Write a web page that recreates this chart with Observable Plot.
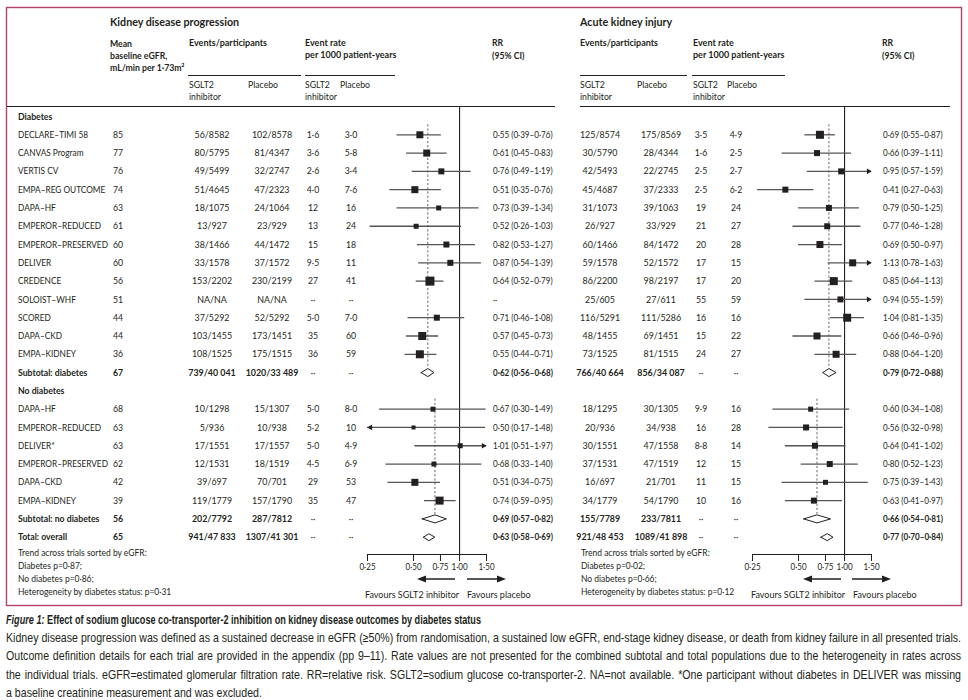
<!DOCTYPE html>
<html><head><meta charset="utf-8">
<script src="https://cdn.jsdelivr.net/npm/d3@7"></script>
<script src="https://cdn.jsdelivr.net/npm/@observablehq/plot@0.6"></script>
<style>
body{margin:0;background:#fff;}
#fig{position:relative;width:968px;height:700px;font-family:Lato,sans-serif;color:#231f20;}
#fig svg.ov{position:absolute;left:0;top:0;}
.plotwrap{position:absolute;}
#cap{position:absolute;left:6px;top:611px;width:962px;font-family:"Liberation Sans",Arial,sans-serif;font-size:12.6px;line-height:18.2px;white-space:nowrap;color:#231f20;}
#cap .ln{display:block;width:max-content;transform-origin:0 0;}
#cap .just{text-align:justify;text-align-last:justify;}
</style></head><body><div id="fig"></div>
<script>
// ---------- DATA ----------
const diabTrials = ["DECLARE–TIMI 58","CANVAS Program","VERTIS CV","EMPA–REG OUTCOME","DAPA–HF","EMPEROR–REDUCED","EMPEROR–PRESERVED","DELIVER","CREDENCE","SOLOIST–WHF","SCORED","DAPA–CKD","EMPA–KIDNEY"];
const noDiabTrials = ["DAPA–HF","EMPEROR–REDUCED","DELIVER*","EMPEROR–PRESERVED","DAPA–CKD","EMPA–KIDNEY"];
const summaryLabels = ["Subtotal: diabetes","Subtotal: no diabetes","Total: overall"];
const groupLabels = ["Diabetes","No diabetes"];
const diabEgfr = [85,77,76,74,63,61,60,60,56,51,44,44,36];
const noDiabEgfr = [68,63,63,62,42,39];
const summaryEgfr = [67,56,65];

// Kidney disease progression
const kdDiabEvS = ["56/8582","80/5795","49/5499","51/4645","18/1075","13/927","38/1466","33/1578","153/2202","NA/NA","37/5292","103/1455","108/1525"];
const kdDiabEvP = ["102/8578","81/4347","32/2747","47/2323","24/1064","23/929","44/1472","37/1572","230/2199","NA/NA","52/5292","173/1451","175/1515"];
const kdDiabRateS = ["1·6","3·6","2·6","4·0","12","13","15","9·5","27","··","5·0","35","36"];
const kdDiabRateP = ["3·0","5·8","3·4","7·6","16","24","18","11","41","··","7·0","60","59"];
const kdDiabRR = [0.55,0.61,0.76,0.51,0.73,0.52,0.82,0.87,0.64,null,0.71,0.57,0.55];
const kdDiabLo = [0.39,0.45,0.49,0.35,0.39,0.26,0.53,0.54,0.52,null,0.46,0.45,0.44];
const kdDiabHi = [0.76,0.83,1.19,0.76,1.34,1.03,1.27,1.39,0.79,null,1.08,0.73,0.71];
const kdDiabBox = [7,7,6,7,5,5,6,6,9,0,6,8,8];
const kdNoDiabEvS = ["10/1298","5/936","17/1551","12/1531","39/697","119/1779"];
const kdNoDiabEvP = ["15/1307","10/938","17/1557","18/1519","70/701","157/1790"];
const kdNoDiabRateS = ["5·0","5·2","5·0","4·5","29","35"];
const kdNoDiabRateP = ["8·0","10","4·9","6·9","53","47"];
const kdNoDiabRR = [0.67,0.50,1.01,0.68,0.51,0.74];
const kdNoDiabLo = [0.30,0.17,0.51,0.33,0.34,0.59];
const kdNoDiabHi = [1.49,1.48,1.97,1.40,0.75,0.95];
const kdNoDiabBox = [5,4,5,5,7,8];
const kdSumEvS = ["739/40 041","202/7792","941/47 833"];
const kdSumEvP = ["1020/33 489","287/7812","1307/41 301"];
const kdSumRR = [0.62,0.69,0.63];
const kdSumLo = [0.56,0.57,0.58];
const kdSumHi = [0.68,0.82,0.69];
const kdTrend = ["Trend across trials sorted by eGFR:","Diabetes p=0·87;","No diabetes p=0·86;","Heterogeneity by diabetes status: p=0·31"];

// Acute kidney injury
const akiDiabEvS = ["125/8574","30/5790","42/5493","45/4687","31/1073","26/927","60/1466","59/1578","86/2200","25/605","116/5291","48/1455","73/1525"];
const akiDiabEvP = ["175/8569","28/4344","22/2745","37/2333","39/1063","33/929","84/1472","52/1572","98/2197","27/611","111/5286","69/1451","81/1515"];
const akiDiabRateS = ["3·5","1·6","2·5","2·5","19","21","20","17","17","55","16","15","24"];
const akiDiabRateP = ["4·9","2·5","2·7","6·2","24","27","28","15","20","59","16","22","27"];
const akiDiabRR = [0.69,0.66,0.95,0.41,0.79,0.77,0.69,1.13,0.85,0.94,1.04,0.66,0.88];
const akiDiabLo = [0.55,0.39,0.57,0.27,0.50,0.46,0.50,0.78,0.64,0.55,0.81,0.46,0.64];
const akiDiabHi = [0.87,1.11,1.59,0.63,1.25,1.28,0.97,1.63,1.13,1.59,1.35,0.96,1.20];
const akiDiabBox = [8,6,6,6,6,6,7,7,8,6,8,7,7];
const akiNoDiabEvS = ["18/1295","20/936","30/1551","37/1531","16/697","34/1779"];
const akiNoDiabEvP = ["30/1305","34/938","47/1558","47/1519","21/701","54/1790"];
const akiNoDiabRateS = ["9·9","16","8·8","12","11","10"];
const akiNoDiabRateP = ["16","28","14","15","15","16"];
const akiNoDiabRR = [0.60,0.56,0.64,0.80,0.75,0.63];
const akiNoDiabLo = [0.34,0.32,0.41,0.52,0.39,0.41];
const akiNoDiabHi = [1.08,0.98,1.02,1.23,1.43,0.97];
const akiNoDiabBox = [5,6,6,6,5,6];
const akiSumEvS = ["766/40 664","155/7789","921/48 453"];
const akiSumEvP = ["856/34 087","233/7811","1089/41 898"];
const akiSumRR = [0.79,0.66,0.77];
const akiSumLo = [0.72,0.54,0.70];
const akiSumHi = [0.88,0.81,0.84];
const akiTrend = ["Trend across trials sorted by eGFR:","Diabetes p=0·02;","No diabetes p=0·66;","Heterogeneity by diabetes status: p=0·12"];

const xTicks = [0.25,0.5,0.75,1,1.5];
const xDomain = [0.25,1.5];

// ---------- BUILD ROWS ----------
const fmt = v => v.toFixed(2).replace(".", "·");
function rrText(rr, lo, hi){ return rr == null ? "··" : `${fmt(rr)} (${fmt(lo)}–${fmt(hi)})`; }
function buildPanel(p){
  const rows = [];
  let r = 0;
  rows.push({row:r++, type:"group", name:groupLabels[0]});
  diabTrials.forEach((n,i)=>rows.push({row:r++, type:"trial", name:n, egfr:diabEgfr[i], evS:p.dEvS[i], evP:p.dEvP[i], rS:p.dRS[i], rP:p.dRP[i], rr:p.dRR[i], lo:p.dLo[i], hi:p.dHi[i], box:p.dBox[i]}));
  rows.push({row:r++, type:"subtotal", name:summaryLabels[0], egfr:summaryEgfr[0], evS:p.sEvS[0], evP:p.sEvP[0], rS:"··", rP:"··", rr:p.sRR[0], lo:p.sLo[0], hi:p.sHi[0]});
  rows.push({row:r++, type:"group", name:groupLabels[1]});
  noDiabTrials.forEach((n,i)=>rows.push({row:r++, type:"trial", name:n, egfr:noDiabEgfr[i], evS:p.nEvS[i], evP:p.nEvP[i], rS:p.nRS[i], rP:p.nRP[i], rr:p.nRR[i], lo:p.nLo[i], hi:p.nHi[i], box:p.nBox[i]}));
  rows.push({row:r++, type:"subtotal", name:summaryLabels[1], egfr:summaryEgfr[1], evS:p.sEvS[1], evP:p.sEvP[1], rS:"··", rP:"··", rr:p.sRR[1], lo:p.sLo[1], hi:p.sHi[1]});
  rows.push({row:r++, type:"total", name:summaryLabels[2], egfr:summaryEgfr[2], evS:p.sEvS[2], evP:p.sEvP[2], rS:"··", rP:"··", rr:p.sRR[2], lo:p.sLo[2], hi:p.sHi[2]});
  const groupRows = rows.filter(d=>d.type==="group");
  const subRows = rows.filter(d=>d.type==="subtotal");
  const groups = subRows.map((s,i)=>({rr:s.rr, y1:groupRows[i].row+0.45, y2:s.row-0.25}));
  return {rows, groups, trend:p.trend};
}
const kd = buildPanel({dEvS:kdDiabEvS,dEvP:kdDiabEvP,dRS:kdDiabRateS,dRP:kdDiabRateP,dRR:kdDiabRR,dLo:kdDiabLo,dHi:kdDiabHi,dBox:kdDiabBox,
  nEvS:kdNoDiabEvS,nEvP:kdNoDiabEvP,nRS:kdNoDiabRateS,nRP:kdNoDiabRateP,nRR:kdNoDiabRR,nLo:kdNoDiabLo,nHi:kdNoDiabHi,nBox:kdNoDiabBox,
  sEvS:kdSumEvS,sEvP:kdSumEvP,sRR:kdSumRR,sLo:kdSumLo,sHi:kdSumHi,trend:kdTrend});
const aki = buildPanel({dEvS:akiDiabEvS,dEvP:akiDiabEvP,dRS:akiDiabRateS,dRP:akiDiabRateP,dRR:akiDiabRR,dLo:akiDiabLo,dHi:akiDiabHi,dBox:akiDiabBox,
  nEvS:akiNoDiabEvS,nEvP:akiNoDiabEvP,nRS:akiNoDiabRateS,nRP:akiNoDiabRateP,nRR:akiNoDiabRR,nLo:akiNoDiabLo,nHi:akiNoDiabHi,nBox:akiNoDiabBox,
  sEvS:akiSumEvS,sEvP:akiSumEvP,sRR:akiSumRR,sLo:akiSumLo,sHi:akiSumHi,trend:akiTrend});

// ---------- LAYOUT ----------
const INK = "#231f20";
const FS = 10;
const SX = 0.87;     // horizontal condensing of table text
const rowY = r => 116 + r*18.29;
const fig = d3.select("#fig");
const svg = fig.append("svg").attr("class","ov").attr("width",968).attr("height",700)
  .style("font-family","Lato, sans-serif").style("fill",INK);

svg.append("rect").attr("x",6.5).attr("y",7.5).attr("width",955).attr("height",598)
  .attr("fill","none").attr("stroke","#b4406e").attr("stroke-width",1.4);

function txt(s, x, y, o={}){
  const sx = o.sx || SX;
  svg.append("text").attr("transform",`translate(${x},${y}) scale(${sx},1)`).attr("dy","0.36em")
    .attr("text-anchor",o.anchor||"start").attr("font-weight",o.bold?"bold":"normal")
    .attr("font-size",o.size||FS).attr("fill",INK).text(s);
}
function hline(x1,x2,y,w=1){ svg.append("line").attr("x1",x1).attr("x2",x2).attr("y1",y).attr("y2",y).attr("stroke",INK).attr("stroke-width",w); }

const cols = {
  kd: {title:"Kidney disease progression", titleX:110, evX:189, plX:248, rateX:305, rplX:340, evC:212, plC:272, rsC:313, rpC:351, rrX:493, rule1:[188,301], rule2:[305,395], trendX:18, fav:[365,467], arrowL:[455,417], arrowR:[467,506]},
  aki:{title:"Acute kidney injury", titleX:580, evX:580, plX:637, rateX:693, rplX:727, evC:600, plC:661, rsC:701, rpC:736, rrX:883, rule1:[580,687], rule2:[692,785], trendX:581, fav:[751,853], arrowL:[841,803], arrowR:[852,891]}
};

// headers
[cols.kd, cols.aki].forEach(c=>{
  txt(c.title, c.titleX, 22, {bold:true, size:11.8, sx:0.91});
  txt("Events/participants", c.evX, 42, {bold:true, sx:0.9});
  txt("Event rate", c.rateX, 42, {bold:true, sx:0.9});
  txt("per 1000 patient-years", c.rateX, 54, {bold:true, sx:0.9});
  hline(c.rule1[0], c.rule1[1], 75.5);
  hline(c.rule2[0], c.rule2[1], 75.5);
  txt("SGLT2", c.evX, 84); txt("inhibitor", c.evX, 96); txt("Placebo", c.plX, 84);
  txt("SGLT2", c.rateX, 84); txt("inhibitor", c.rateX, 96); txt("Placebo", c.rplX, 84);
  txt("RR", c.rrX - 1, 42, {bold:true}); txt("(95% CI)", c.rrX - 1, 55, {bold:true});
});
txt("Mean",110,43,{bold:true}); txt("baseline eGFR,",110,55,{bold:true});
txt("mL/min per 1·73m²",110,67,{bold:true});
hline(7, 555, 106.5); hline(580, 950, 106.5);

// row labels (shared)
kd.rows.forEach(d=>{
  const b = d.type!=="trial";
  txt(d.name, 18, rowY(d.row), {bold:b, sx: b ? 0.87 : 0.83});
  if (d.egfr!=null) txt(d.egfr, 113, rowY(d.row), {bold:b});
});
// panel table cells
[[kd,cols.kd],[aki,cols.aki]].forEach(([p,c])=>{
  p.rows.filter(d=>d.type!=="group").forEach(d=>{
    const b = d.type!=="trial", y = rowY(d.row);
    txt(d.evS, c.evC, y, {anchor:"middle", bold:b, sx:0.89});
    txt(d.evP, c.plC, y, {anchor:"middle", bold:b, sx:0.89});
    txt(d.rS, c.rsC, y, {anchor:"middle"});
    txt(d.rP, c.rpC, y, {anchor:"middle"});
    txt(rrText(d.rr,d.lo,d.hi), c.rrX, y, {bold:b, sx:0.81});
  });
  p.trend.forEach((s,i)=>txt(s, c.trendX, 552 + i*13, {sx:0.85}));
  txt("Favours SGLT2 inhibitor", c.fav[0], 594, {sx:0.9});
  txt("Favours placebo", c.fav[1], 594, {sx:0.9});
  const ay = 579;
  [[c.arrowL,-1],[c.arrowR,1]].forEach(([a,dir])=>{
    const tip = a[1], base = tip - dir*9;
    svg.append("line").attr("x1",a[0]).attr("x2",base).attr("y1",ay).attr("y2",ay).attr("stroke",INK).attr("stroke-width",1.5);
    svg.append("path").attr("d",`M${tip},${ay}L${base},${ay-3.6}L${base},${ay+3.6}Z`).attr("fill",INK);
  });
});

// ---------- FOREST PLOTS ----------
function forest(p, left){
  const trials = p.rows.filter(d=>d.type==="trial" && d.rr!=null);
  const summ = p.rows.filter(d=>d.type==="subtotal"||d.type==="total");
  const diamonds = summ.flatMap(d=>{
    const h = d.type==="total" ? 0.19 : 0.22;
    return [[d.lo,d.row],[d.rr,d.row-h],[d.hi,d.row],[d.rr,d.row+h],[d.lo,d.row]].map(([x,y])=>({x,y,k:d.row}));
  });
  const chart = Plot.plot({
    width:160, height:494, marginLeft:27, marginRight:14, marginTop:0, marginBottom:46,
    style:{background:"transparent", overflow:"visible", fontFamily:"Lato, sans-serif", fontSize:"9.6px", color:INK},
    x:{type:"log", domain:xDomain, axis:null},
    y:{domain:[0,23], range:[10,430.7], axis:null},
    r:{type:"identity"},
    marks:[
      Plot.ruleX(p.groups, {x:"rr", y1:"y1", y2:"y2", stroke:"#555", strokeDasharray:"2.2,2", strokeWidth:0.9}),
      Plot.ruleX([1], {stroke:INK, strokeWidth:1.1}),
      Plot.ruleY(trials, {y:"row", x1:d=>Math.max(d.lo,xDomain[0]), x2:d=>Math.min(d.hi,xDomain[1]), stroke:"#555", strokeWidth:1.3}),
      Plot.dot(trials.filter(d=>d.hi>xDomain[1]), {x:xDomain[1], y:"row", symbol:"triangle2", rotate:90, r:2.7, fill:INK, stroke:"none", dx:-3}),
      Plot.dot(trials.filter(d=>d.lo<xDomain[0]), {x:xDomain[0], y:"row", symbol:"triangle2", rotate:-90, r:2.7, fill:INK, stroke:"none", dx:3}),
      Plot.dot(trials, {x:"rr", y:"row", symbol:"square", r:d=>d.box/1.772, fill:INK, stroke:"none"}),
      Plot.line(diamonds, {x:"x", y:"y", z:"k", stroke:INK, fill:"white", strokeWidth:1}),
      Plot.frame({anchor:"bottom", stroke:INK, strokeWidth:1.1}),
      Plot.axisX({ticks:xTicks, tickFormat:fmt, tickSize:7, tickPadding:2, fontSize:9.6, stroke:INK})
    ]
  });
  d3.select(chart).selectAll("g[aria-label='x-axis tick label'] text").each(function(){
    const t = this.getAttribute("transform") || "";
    this.setAttribute("transform", t + " scale(0.84,1)");
  });
  const w = fig.append("div").attr("class","plotwrap").style("left",left+"px").style("top","106px");
  w.node().appendChild(chart);
}
forest(kd, 340);
forest(aki, 725);

// ---------- CAPTION ----------
const captionTitle = ["Figure 1:", " Effect of sodium glucose co-transporter-2 inhibition on kidney disease outcomes by diabetes status"];
const captionLines = [
  "Kidney disease progression was defined as a sustained decrease in eGFR (≥50%) from randomisation, a sustained low eGFR, end-stage kidney disease, or death from kidney failure in all presented trials.",
  "Outcome definition details for each trial are provided in the appendix (pp 9–11). Rate values are not presented for the combined subtotal and total populations due to the heterogeneity in rates across",
  "the individual trials. eGFR=estimated glomerular filtration rate. RR=relative risk. SGLT2=sodium glucose co-transporter-2. NA=not available. *One participant without diabetes in DELIVER was missing",
  "a baseline creatinine measurement and was excluded."
];
const cap = fig.append("div").attr("id","cap");
const t = cap.append("div").attr("class","ln").style("font-weight","bold");
t.append("i").text(captionTitle[0]); t.append("span").text(captionTitle[1]);
const lines = captionLines.map(s=>cap.append("div").attr("class","ln").text(s));
// condensed caption face: first line spans the box, lines 1-3 justified
const k = 955 / lines[0].node().getBoundingClientRect().width;
lines.forEach((l,i)=>{
  if (i < 3) l.classed("just", true).style("width", (955 / k) + "px");
  l.style("transform",`scaleX(${k})`);
});
const kt = 475 / t.node().getBoundingClientRect().width;
t.style("transform",`scaleX(${kt})`);
</script></body></html>
